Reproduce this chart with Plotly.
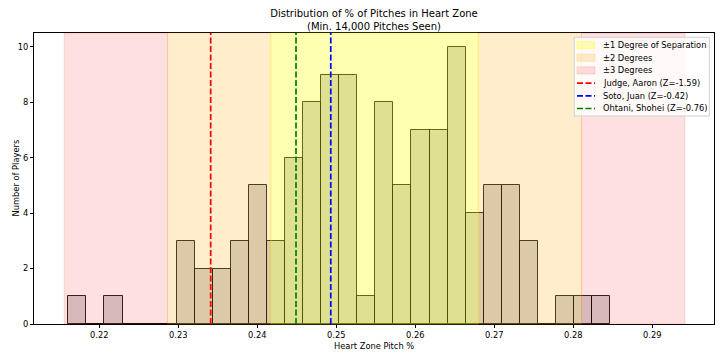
import plotly.graph_objects as go

# ---------------- data ----------------
bin_start = 0.21608
bin_width = 0.002286
counts = [1, 0, 1, 0, 0, 0, 3, 2, 2, 3, 5, 3, 6, 8, 9, 9, 1, 8, 5, 7, 7, 10, 4, 5, 5, 3, 0, 1, 1, 1]

mean_val = 0.25484
std_val = 0.0131

band_labels = ["±1 Degree of Separation", "±2 Degrees", "±3 Degrees"]
band_colors = ["rgba(255,255,0,0.3)", "rgba(255,165,0,0.2)", "rgba(255,0,0,0.12)"]

players = ["Judge, Aaron", "Soto, Juan", "Ohtani, Shohei"]
player_z = [-1.59, -0.42, -0.76]
player_values = [0.2341, 0.2493, 0.2449]
player_colors = ["red", "blue", "green"]

x_ticks = [0.22, 0.23, 0.24, 0.25, 0.26, 0.27, 0.28, 0.29]
y_ticks = [0, 2, 4, 6, 8, 10]

title_text = "Distribution of % of Pitches in Heart Zone<br>(Min. 14,000 Pitches Seen)"
x_title = "Heart Zone Pitch %"
y_title = "Number of Players"

# ---------------- figure ----------------
W, H = 720, 357
L, R, T, B = 34, 6, 33, 33
PW, PH = W - L - R, H - T - B
FONT = "DejaVu Sans"
FS = 8.3


def px_x(p):
    return (p - L) / PW


def px_y(p):
    return (H - B - p) / PH


centers = [bin_start + (i + 0.5) * bin_width for i in range(len(counts))]

fig = go.Figure()
fig.add_trace(go.Bar(
    x=centers, y=counts, width=[bin_width] * len(counts),
    marker=dict(color="rgba(128,128,128,0.35)",
                line=dict(color="rgba(0,0,0,0.85)", width=1)),
    showlegend=False, hoverinfo="skip",
))

shapes = []
# bands (non-overlapping segments), drawn above the bars like the original
for k in (3, 2, 1):
    col = band_colors[k - 1]
    if k == 1:
        segs = [(mean_val - std_val, mean_val + std_val)]
    else:
        segs = [(mean_val - k * std_val, mean_val - (k - 1) * std_val),
                (mean_val + (k - 1) * std_val, mean_val + k * std_val)]
    for a, b in segs:
        shapes.append(dict(type="rect", xref="x", yref="paper", x0=a, x1=b, y0=0, y1=1,
                           fillcolor=col, line=dict(color=col, width=1), layer="above"))

# player lines
for v, c in zip(player_values, player_colors):
    shapes.append(dict(type="line", xref="x", yref="paper", x0=v, x1=v, y0=0, y1=1,
                       line=dict(color=c, width=1.7, dash="6px,2.5px"), layer="above"))

# manual legend
lx0, lx1, ly0, ly1 = 574.3, 709.3, 37.3, 116.0
shapes.append(dict(type="rect", xref="paper", yref="paper",
                   x0=px_x(lx0), x1=px_x(lx1), y0=px_y(ly1), y1=px_y(ly0),
                   fillcolor="rgba(255,255,255,0.8)", line=dict(color="#d0d0d0", width=1),
                   layer="above"))
row_y = [45.0 + 12.7 * i for i in range(6)]
sx0, sx1 = 577.0, 595.0
annotations = []
labels = list(band_labels) + [f"{p} (Z={z:.2f})" for p, z in zip(players, player_z)]
for i, lab in enumerate(labels):
    yc = row_y[i]
    if i < 3:
        col = band_colors[i]
        shapes.append(dict(type="rect", xref="paper", yref="paper",
                           x0=px_x(sx0), x1=px_x(sx1), y0=px_y(yc + 3.6), y1=px_y(yc - 3.6),
                           fillcolor=col, line=dict(color=col, width=1), layer="above"))
    else:
        c = player_colors[i - 3]
        shapes.append(dict(type="line", xref="paper", yref="paper",
                           x0=px_x(sx0), x1=px_x(sx1), y0=px_y(yc), y1=px_y(yc),
                           line=dict(color=c, width=1.7, dash="6px,2.5px"), layer="above"))
    annotations.append(dict(xref="paper", yref="paper", x=px_x(600.5), y=px_y(yc),
                            xanchor="left", yanchor="middle", text=lab, showarrow=False,
                            font=dict(family=FONT, size=FS, color="black")))

# axis titles
annotations.append(dict(xref="paper", yref="paper", x=0.5, y=px_y(346),
                        xanchor="center", yanchor="middle", text=x_title, showarrow=False,
                        font=dict(family=FONT, size=FS, color="black")))
annotations.append(dict(xref="paper", yref="paper", x=px_x(15), y=0.5, textangle=-90,
                        xanchor="center", yanchor="middle", text=y_title, showarrow=False,
                        font=dict(family=FONT, size=FS, color="black")))

fig.update_layout(
    width=W, height=H,
    margin=dict(l=L, r=R, t=T, b=B, pad=0, autoexpand=False),
    paper_bgcolor="white", plot_bgcolor="white",
    font=dict(family=FONT, size=FS, color="black"),
    title=dict(text=title_text, x=(L + PW / 2) / W, xanchor="center",
               y=1 - 17 / H, yanchor="middle", yref="container",
               font=dict(family=FONT, size=10, color="black")),
    showlegend=False,
    shapes=shapes,
    annotations=annotations,
    bargap=0,
    xaxis=dict(range=[0.211734, 0.29781], tickvals=x_ticks,
               ticktext=[f"{t:.2f}" for t in x_ticks],
               ticks="outside", ticklen=3, tickwidth=0.8, tickcolor="black",
               showgrid=False, zeroline=False, showline=True, mirror=True,
               linecolor="black", linewidth=1, automargin=False,
               tickfont=dict(family=FONT, size=FS, color="black")),
    yaxis=dict(range=[0, 10.5], tickvals=y_ticks,
               ticks="outside", ticklen=3, tickwidth=0.8, tickcolor="black",
               showgrid=False, zeroline=False, showline=True, mirror=True,
               linecolor="black", linewidth=1, automargin=False,
               tickfont=dict(family=FONT, size=FS, color="black")),
)

fig.write_html("out.html", config={"displayModeBar": False},
               post_script="document.body.style.margin='0';")
